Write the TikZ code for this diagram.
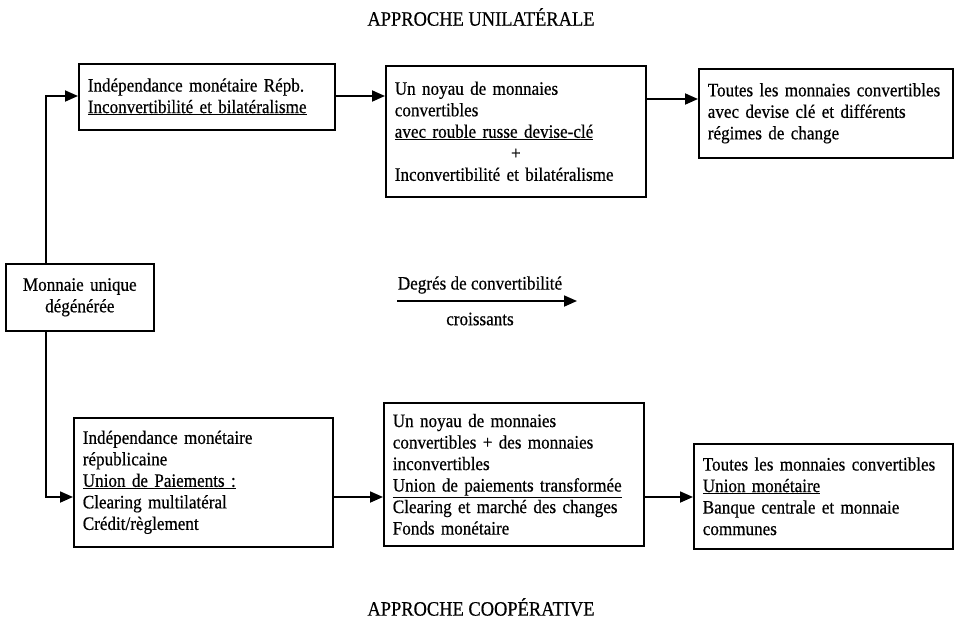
\documentclass[tikz,border=0pt]{standalone}
\usepackage{fontspec}
\setmainfont{Liberation Serif}[FakeBold=0.5,FakeStretch=0.9]
\usetikzlibrary{arrows.meta}
\begin{document}
\begin{tikzpicture}[x=1pt,y=-1pt,
  txt/.style={font=\fontsize{19}{21.5}\selectfont, inner sep=0pt},
  ttl/.style={font=\fontsize{20.5}{22}\selectfont, inner sep=0pt},
  boxnode/.style={draw, line width=1.6pt, anchor=north west, inner xsep=9pt, inner ysep=0pt,
     align=left, font=\fontsize{19}{21.5}\selectfont},
  conn/.style={line width=1.8pt, -{Triangle[length=13pt,width=11pt]}}]
\useasboundingbox (0,0) rectangle (958,627);
% titles
\node[ttl] (t1) at (481,17) {APPROCHE UNILAT\'ERALE};
\node[ttl] (t2) at (481,607) {APPROCHE COOP\'ERATIVE};
% boxes
\node[boxnode, text width=238pt, minimum height=66pt] (a1) at (78,63)
  {Ind\'ependance mon\'etaire R\'epb.\\ \underline{Inconvertibilit\'e et bilat\'eralisme}};
\node[boxnode, text width=242pt, minimum height=131pt] (a2) at (385,65)
  {Un noyau de monnaies\\ convertibles\\ \underline{avec rouble russe devise-cl\'e}\\
   \makebox[\linewidth][c]{+}\\ Inconvertibilit\'e et bilat\'eralisme};
\node[boxnode, text width=236pt, minimum height=89pt] (a3) at (698,68)
  {Toutes les monnaies convertibles\\ avec devise cl\'e et diff\'erents\\ r\'egimes de change};
\node[boxnode, align=center, text width=130pt, minimum height=67pt] (m) at (5,263)
  {Monnaie unique\\ d\'eg\'en\'er\'ee};
\node[boxnode, text width=241pt, minimum height=129pt] (b1) at (73,417)
  {Ind\'ependance mon\'etaire\\ r\'epublicaine\\ \underline{Union de Paiements :}\\
   Clearing multilat\'eral\\ Cr\'edit/r\`eglement};
\node[boxnode, text width=242pt, minimum height=143pt] (b2) at (383,402)
  {Un noyau de monnaies\\ convertibles + des monnaies\\ inconvertibles\\
   \underline{Union de paiements transform\'ee}\\ Clearing et march\'e des changes\\ Fonds mon\'etaire};
\node[boxnode, text width=241pt, minimum height=105pt] (b3) at (693,443)
  {Toutes les monnaies convertibles\\ \underline{Union mon\'etaire}\\
   Banque centrale et monnaie\\ communes};
% helper coordinates
\coordinate (vx) at (46,0);
\coordinate (hi) at (0,96);
\coordinate (hi2) at (0,99);
\coordinate (lo) at (0,497);
% connectors
\draw[conn] (m.north -| vx) |- (a1.west |- hi);
\draw[conn] (m.south -| vx) |- (b1.west |- lo);
\draw[conn] (a1.east |- hi) -- (a2.west |- hi);
\draw[conn] (a2.east |- hi2) -- (a3.west |- hi2);
\draw[conn] (b1.east |- lo) -- (b2.west |- lo);
\draw[conn] (b2.east |- lo) -- (b3.west |- lo);
% degree arrow
\coordinate (d1) at (397,301);
\coordinate (d2) at (577,301);
\draw[conn] (d1) -- (d2);
\node[txt] (dg) at (480,285) {Degr\'es de convertibilit\'e};
\node[txt] (cr) at (480,319) {croissants};
\end{tikzpicture}
\end{document}
